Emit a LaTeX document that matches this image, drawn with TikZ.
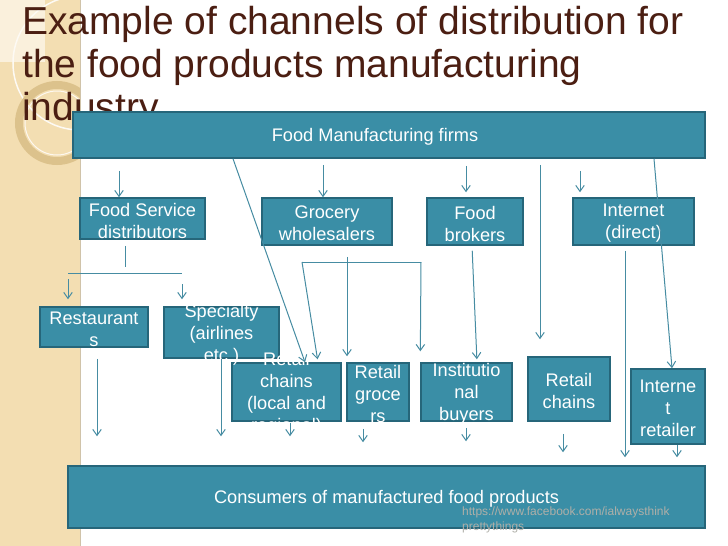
\documentclass[tikz,border=0pt]{standalone}
\usepackage{fontspec}
\setmainfont{Liberation Sans}
\usepackage{tikz}
\usetikzlibrary{arrows.meta}
\definecolor{tealfill}{RGB}{58,142,166}
\definecolor{tealedge}{RGB}{38,102,122}
\definecolor{flowcol}{RGB}{70,140,162}
\definecolor{titlecol}{RGB}{75,30,18}
\definecolor{stripcol}{RGB}{243,222,178}
\definecolor{ringcol}{RGB}{220,194,140}
\definecolor{urlcol}{RGB}{175,175,168}
\tikzset{chan/.style={rectangle,draw=tealedge,fill=tealfill,line width=1.5pt,inner sep=0pt}}
\tikzset{lbl/.style={text=white,align=center,inner sep=0pt,yshift=-2pt,font=\fontsize{18.2}{22}\selectfont}}
\tikzset{link/.style={draw=flowcol,line width=1pt}}
\tikzset{flow/.style={link,-{Straight Barb[length=6pt,width=8.5pt]}}}

\begin{document}
\begin{tikzpicture}[x=1pt,y=-1pt]
    \useasboundingbox (0,0) rectangle (728,546);
    % slide background
    \fill[white] (0,0) rectangle (728,546);
    \fill[stripcol] (0,0) rectangle (80,546);
    \fill[stripcol!45!white] (0,0) rectangle (45,62);
    \begin{scope}
      \clip (0,0) rectangle (80,546);
      \draw[white!85!stripcol,line width=1.5pt] (80,63) circle (67);
      \draw[ringcol,line width=8pt] (57,123) circle (38);
      \draw[white!80!stripcol,line width=1pt] (57,123) circle (32);
    \end{scope}
    \draw[ringcol!80!black!60,line width=1.5pt] (80.5,0) -- (80.5,546);
    \node[anchor=north west,inner sep=0pt,align=left,text=titlecol,font=\fontsize{39}{43}\selectfont] (ttl) at (22,6.5)
      {Example of channels of distribution for\\the food products manufacturing\\industry};
    % boxes
    \node[chan,minimum width=632pt,minimum height=46pt] (top) at (389,135) {};
    \node[chan,minimum width=125pt,minimum height=41pt] (fsd) at (142.5,218.5) {};
    \node[chan,minimum width=130pt,minimum height=47pt] (gw) at (327,221.5) {};
    \node[chan,minimum width=96pt,minimum height=47pt] (fb) at (475,221.5) {};
    \node[chan,minimum width=121pt,minimum height=47pt] (inet) at (633.5,221.5) {};
    \node[chan,minimum width=108pt,minimum height=40pt] (rest) at (94,327) {};
    \node[chan,minimum width=115pt,minimum height=51pt] (spec) at (221.5,332.5) {};
    \node[chan,minimum width=109pt,minimum height=58pt] (rcl) at (286.5,392) {};
    \node[chan,minimum width=62pt,minimum height=58pt] (rg) at (378,392) {};
    \node[chan,minimum width=91pt,minimum height=58pt] (ib) at (466.5,392) {};
    \node[chan,minimum width=82pt,minimum height=64pt] (rc) at (569,389) {};
    \node[chan,minimum width=74pt,minimum height=75pt] (ir) at (668,406.5) {};
    \node[chan,minimum width=637pt,minimum height=62pt] (cons) at (386.5,497) {};
    % texts
    \node[lbl] (top-t) at (375,135) {Food Manufacturing firms};
    \node[lbl] (fsd-t) at (fsd) {Food Service\\distributors};
    \node[lbl] (gw-t) at (gw) {Grocery\\wholesalers};
    \node[lbl] (fb-t) at (fb) {Food\\brokers};
    \node[lbl] (inet-t) at (inet) {Internet\\(direct)};
    \node[lbl] (rest-t) at (rest) {Restaurant\\s};
    \node[lbl] (spec-t) at (spec) {Specialty\\(airlines\\etc.)};
    \node[lbl] (rcl-t) at (rcl) {Retail\\chains\\(local and\\regional)};
    \node[lbl] (rg-t) at (rg) {Retail\\groce\\rs};
    \node[lbl] (ib-t) at (ib) {Institutio\\nal\\buyers};
    \node[lbl] (rc-t) at (rc) {Retail\\chains};
    \node[lbl] (ir-t) at (ir) {Interne\\t\\retailer};
    \node[lbl] (cons-t) at (cons) {Consumers of manufactured food products};
    \node[anchor=north west,inner sep=0pt,align=left,text=urlcol,font=\fontsize{12}{15}\selectfont] (src) at (462,507)
      {https://www.facebook.com/ialwaysthink\\prettythings};
    % branch points
    \coordinate (fsl) at (68,273);
    \coordinate (fsr) at (182,273);
    \coordinate (gwl) at (302,262);
    \coordinate (gwr) at (421,262);
    % from the firms
    \draw[flow,shorten <=12pt] (top.south -| 119,0) -- (fsd.north -| 119,0);
    \draw[flow,shorten <=6pt] (top.south -| 323,0) -- (gw.north -| 323,0);
    \draw[flow,shorten <=7pt,shorten >=5pt] (top.south -| 466,0) -- (fb.north -| 466,0);
    \draw[flow,shorten <=12pt,shorten >=5pt] (top.south -| 580,0) -- (inet.north -| 580,0);
    \draw[flow] (top.south -| 233,0) -- (rcl.north -| 305,0);
    \draw[flow,shorten <=6pt,shorten >=17pt] (top.south -| 540,0) -- (rc.north -| 540,0);
    \draw[flow] (top.south -| 654,0) -- (ir.north -| 672,0);
    % food service
    \draw[link,shorten <=6pt,shorten >=6pt] (fsd.south -| 125,0) -- (fsl -| 125,0);
    \draw[link] (fsl) -- (fsr);
    \draw[flow,shorten <=6pt,shorten >=7pt] (fsl) -- (rest.north -| fsl);
    \draw[flow,shorten <=11pt,shorten >=7pt] (fsr) -- (spec.north -| fsr);
    % wholesalers and brokers
    \draw[flow,shorten <=11pt,shorten >=6pt] (gw.south -| 347,0) -- (rg.north -| 347,0);
    \draw[link] (gwl) -- (gwr);
    \draw[flow,shorten >=3pt] (gwl) -- (rcl.north -| 318,0);
    \draw[flow,shorten >=11pt] (gwr) -- (ib.north west);
    \draw[flow,shorten <=5pt,shorten >=3pt] (fb.south -| 472,0) -- (ib.north -| 477,0);
    \draw[flow,shorten <=5pt,shorten >=8pt] (inet.south -| 625,0) -- (cons.north -| 625,0);
    % to the consumers
    \draw[flow,shorten <=11pt,shorten >=29pt] (rest.south -| 97,0) -- (cons.north -| 97,0);
    \draw[flow,shorten <=0pt,shorten >=29pt] (spec.south -| 221,0) -- (cons.north -| 221,0);
    \draw[flow,shorten <=1pt,shorten >=29pt] (rcl.south -| 290,0) -- (cons.north -| 290,0);
    \draw[flow,shorten <=7pt,shorten >=23pt] (rg.south -| 363,0) -- (cons.north -| 363,0);
    \draw[flow,shorten <=6pt,shorten >=24pt] (ib.south -| 466,0) -- (cons.north -| 466,0);
    \draw[flow,shorten <=12pt,shorten >=13pt] (rc.south -| 563,0) -- (cons.north -| 563,0);
    \draw[flow,shorten >=8pt] (ir.south -| 677,0) -- (cons.north -| 677,0);
  \end{tikzpicture}
\end{document}
